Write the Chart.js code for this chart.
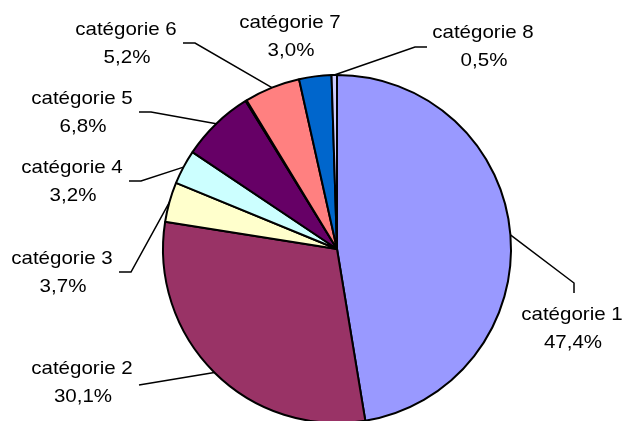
<!DOCTYPE html>
<html>
<head>
<meta charset="utf-8">
<script src="https://cdn.jsdelivr.net/npm/chart.js@4/dist/chart.umd.min.js"></script>
<style>
	html, body { margin: 0; padding: 0; background: #fff; overflow: hidden; }
	#wrap { width: 622px; height: 432px; position: relative; }
</style>
</head>
<body>
<div id="wrap"><canvas id="pie"></canvas></div>
<script>
(function () {
	'use strict';

	// data, clockwise from 12 o'clock (the unlabelled sliver sits between 5 and 6)
	var CATEGORIES = ['catégorie 1', 'catégorie 2', 'catégorie 3', 'catégorie 4', 'catégorie 5', '', 'catégorie 6', 'catégorie 7', 'catégorie 8'];
	var SHARES = [47.4, 30.1, 3.7, 3.2, 6.8, 0.1, 5.2, 3.0, 0.5];
	var COLORS = ['#9999ff', '#993366', '#ffffcc', '#ccffff', '#660066', '#999999', '#ff8080', '#0066cc', '#ccccff'];

	// label placement: text centre x, first baseline y, side where the leader arrives
	var LABEL_SPOTS = [
		{ x: 572, y: 320, side: 'top' },
		{ x: 82, y: 374, side: 'right', straight: true, dy: 11 },
		{ x: 62, y: 264, side: 'right' },
		{ x: 72, y: 173, side: 'right' },
		{ x: 82, y: 104, side: 'right' },
		null,
		{ x: 126, y: 35, side: 'right' },
		{ x: 290, y: 28, side: 'none' },
		{ x: 483, y: 38, side: 'left' }
	];

	var FONT = "19px 'Liberation Sans', Arial, sans-serif";
	var STRETCH = 1.08;
	var LINE_GAP = 28;

	function pctText(value, total) {
		return (value / total * 100).toFixed(1).replace('.', ',') + '%';
	}

	function drawText(ctx, text, x, y) {
		ctx.save();
		ctx.translate(x, y);
		ctx.scale(STRETCH, 1);
		ctx.fillText(text, 0, 0);
		ctx.restore();
	}

	var outsideLabels = {
		id: 'outsideLabels',
		afterDatasetsDraw: function (chart) {
			var ctx = chart.ctx;
			var arcs = chart.getDatasetMeta(0).data;
			var values = chart.data.datasets[0].data;
			var total = values.reduce(function (s, v) { return s + v; }, 0);

			ctx.save();
			ctx.font = FONT;
			ctx.fillStyle = '#000';
			ctx.textAlign = 'center';
			ctx.textBaseline = 'alphabetic';
			ctx.strokeStyle = '#000';
			ctx.lineWidth = 1.5;

			arcs.forEach(function (arc, i) {
				var spot = LABEL_SPOTS[i];
				if (!spot) return;
				var p = arc.getProps(['x', 'y', 'startAngle', 'endAngle', 'outerRadius'], true);
				var mid = (p.startAngle + p.endAngle) / 2;
				var ax = p.x + Math.cos(mid) * p.outerRadius;
				var ay = p.y + Math.sin(mid) * p.outerRadius;
				var dy = spot.dy || 8;

				var end = null, elbow = null;
				if (spot.side === 'right') {
					end = [spot.x + 57, spot.y + dy];
					elbow = spot.straight ? null : [spot.x + 69, spot.y + dy];
				} else if (spot.side === 'left') {
					end = [spot.x - 56, spot.y + 9];
					elbow = [spot.x - 68, spot.y + 9];
				} else if (spot.side === 'top') {
					end = [spot.x + 2, spot.y - 27];
					elbow = [spot.x + 2, spot.y - 37];
				}
				if (end) {
					ctx.beginPath();
					ctx.moveTo(ax, ay);
					if (elbow) ctx.lineTo(elbow[0], elbow[1]);
					ctx.lineTo(end[0], end[1]);
					ctx.stroke();
				}

				drawText(ctx, chart.data.labels[i], spot.x, spot.y);
				drawText(ctx, pctText(values[i], total), spot.x + 1, spot.y + LINE_GAP);
			});
			ctx.restore();
		}
	};

	new Chart(document.getElementById('pie'), {
		type: 'pie',
		data: {
			labels: CATEGORIES,
			datasets: [{
				data: SHARES,
				backgroundColor: COLORS,
				borderColor: '#000',
				borderWidth: 2,
				borderAlign: 'center'
			}]
		},
		options: {
			responsive: true,
			maintainAspectRatio: false,
			animation: false,
			layout: { padding: { left: 162, right: 110, top: 74, bottom: 8 } },
			plugins: {
				legend: { display: false },
				tooltip: { enabled: false }
			}
		},
		plugins: [outsideLabels]
	});
})();
</script>
</body>
</html>
